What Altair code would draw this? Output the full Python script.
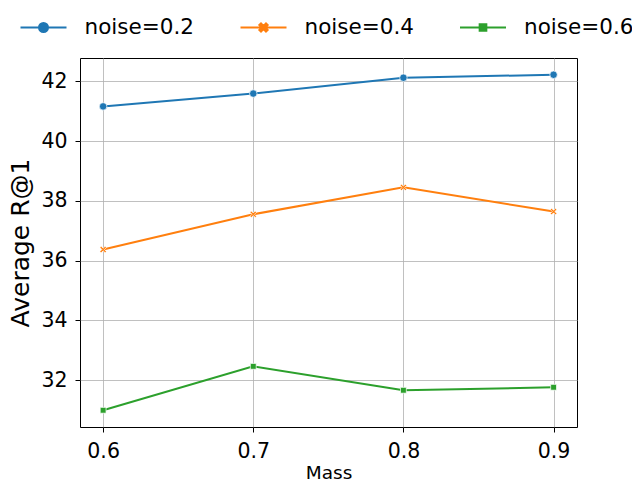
import altair as alt
import pandas as pd

mass = [0.6, 0.7, 0.8, 0.9]
series_names = ["noise=0.2", "noise=0.4", "noise=0.6"]
noise_02 = [41.16, 41.59, 42.12, 42.22]
noise_04 = [36.37, 37.55, 38.45, 37.64]
noise_06 = [30.99, 32.46, 31.66, 31.76]
colors = ["#1f77b4", "#ff7f0e", "#2ca02c"]
y_ticks = [32, 34, 36, 38, 40, 42]

rows = []
for name, vals in zip(series_names, [noise_02, noise_04, noise_06]):
    for m, v in zip(mass, vals):
        rows.append({"Mass": m, "R1": v, "series": name})
df = pd.DataFrame(rows)

FONT = "DejaVu Sans"

X_PTS = "-1,-0.6 -0.6,-1 0,-0.4 0.6,-1 1,-0.6 0.4,0 1,0.6 0.6,1 0,0.4 -0.6,1 -1,0.6 -0.4,0".split()


def x_path(s):
    out = []
    for i, p in enumerate(X_PTS):
        a, b = p.split(",")
        out.append(("M" if i == 0 else "L") + f"{float(a)*s:.3f},{float(b)*s:.3f}")
    return "".join(out) + "Z"


marker_shapes = ["circle", x_path(1.0), "square"]
marker_sizes = [56, 42, 34]

# legend symbols: line segment plus marker (unit box [-1,1])
leg_paths = [
    "M-1,0H1M0.196,0A0.196,0.196,0,1,1,-0.196,0A0.196,0.196,0,1,1,0.196,0Z",
    "M-1,0H1" + x_path(0.18),
    "M-1,0H1M-0.145,-0.145H0.145V0.145H-0.145Z",
]
legend_x = [-60.5, 159.5, 379]

color_scale = alt.Scale(domain=series_names, range=colors)

x_enc = alt.X(
    "Mass:Q",
    scale=alt.Scale(domain=[0.5846, 0.9156], nice=False, zero=False),
    axis=alt.Axis(values=mass, format=".1f", title="Mass", grid=True),
)
y_enc = alt.Y(
    "R1:Q",
    scale=alt.Scale(domain=[30.43, 42.78], nice=False, zero=False),
    axis=alt.Axis(values=y_ticks, format="d", title="Average R@1", grid=True),
)

lines = alt.Chart(df).mark_line(strokeWidth=2).encode(
    x=x_enc,
    y=y_enc,
    color=alt.Color("series:N", scale=color_scale, legend=None),
)

layers = [lines]
for name, shp, sz in zip(series_names, marker_shapes, marker_sizes):
    layers.append(
        alt.Chart(df)
        .transform_filter(alt.datum.series == name)
        .mark_point(filled=True, opacity=1, stroke="white", strokeWidth=0.7, shape=shp, size=sz)
        .encode(
            x=x_enc,
            y=y_enc,
            color=alt.Color("series:N", scale=color_scale, legend=None),
        )
    )

# one legend entry per series, each from its own (empty) layer
for name, col, path, lx in zip(series_names, colors, leg_paths, legend_x):
    layers.append(
        alt.Chart(df)
        .transform_filter("false")
        .mark_point(filled=True, opacity=1, stroke=col, strokeWidth=2)
        .encode(
            x=x_enc,
            y=y_enc,
            color=alt.Color(
                "series:N",
                scale=alt.Scale(domain=[name], range=[col]),
                legend=alt.Legend(
                    orient="none",
                    legendX=lx,
                    legendY=-54.5,
                    direction="horizontal",
                    title=None,
                    labelFont=FONT,
                    labelFontSize=21.5,
                    labelColor="black",
                    symbolType=path,
                    symbolSize=2116,
                    symbolStrokeWidth=2,
                    symbolStrokeColor=col,
                    symbolFillColor=col,
                    labelOffset=17,
                ),
            ),
        )
    )

chart = (
    alt.layer(*layers)
    .resolve_scale(color="independent")
    .properties(
        width=497,
        height=369,
        autosize=alt.AutoSizeParams(type="none"),
        padding={"left": 72, "top": 50, "right": 55, "bottom": 57},
    )
    .configure_view(stroke="black", strokeWidth=1)
    .configure_axis(
        labelFont=FONT,
        labelFontSize=20.5,
        labelColor="black",
        titleFont=FONT,
        titleColor="black",
        titleFontWeight="normal",
        gridColor="#b0b0b0",
        gridWidth=0.8,
        tickColor="black",
        tickSize=5,
        tickWidth=1,
        domain=False,
    )
    .configure_axisX(labelPadding=9, titleFontSize=18.5, titlePadding=1.5)
    .configure_axisY(labelPadding=8, titleFontSize=25, titlePadding=7)
)

chart.save("out.html", embed_options={"renderer": "svg", "actions": False})
